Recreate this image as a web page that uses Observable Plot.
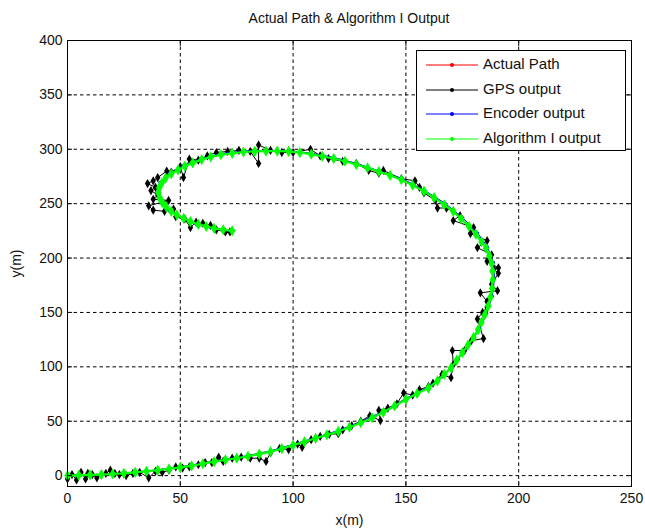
<!DOCTYPE html>
<html><head><meta charset="utf-8">
<script src="https://cdn.jsdelivr.net/npm/d3@7"></script>
<script src="https://cdn.jsdelivr.net/npm/@observablehq/plot@0.6"></script>
<style>
body{margin:0;background:#fff;font-family:"Liberation Sans",Arial,sans-serif;}
#wrap{position:relative;width:645px;height:532px;overflow:hidden;}
#title{position:absolute;left:67px;width:564px;top:10px;text-align:center;font-size:14px;color:#111;}
#chart{position:absolute;left:0;top:30px;}
#legend{position:absolute;left:416px;top:50px;width:208px;height:99px;border:1px solid #000;background:#fff;}
.row{position:absolute;left:0;height:20px;width:208px;}
.row svg{position:absolute;left:8px;top:6px;}
.row span{position:absolute;left:66px;top:1px;font-size:15px;color:#111;white-space:nowrap;}
</style>
</head><body>
<div id="wrap">
  <div id="title">Actual Path &amp; Algorithm I Output</div>
  <div id="chart"></div>
  <div id="legend"></div>
</div>
<script>
// ---- data (metres) ----
const xTicks = [0, 50, 100, 150, 200, 250];
const yTicks = [0, 50, 100, 150, 200, 250, 300, 350, 400];
const seriesNames = ["Actual Path", "GPS output", "Encoder output", "Algorithm I output"];
const seriesColors = ["#ff0000", "#000000", "#0000ff", "#00ff00"];

const actualPath = [[0,0],[10,0.4],[20,1.3],[30,2.8],[40,5],[50,7.6],[60,11],[70,14.6],[80,17.8],[90,22.2],[100,28.2],[110,34.3],[120,40.8],[130,48.7],[140,58.3],[150,70.2],[160,80.8],[167,93.3],[172.5,106.2],[177.5,120.3],[182,134.2],[185,148.3],[187.5,164.2],[188.5,180.2],[188,195.2],[185.5,209],[181,222],[174.5,236],[167,249.2],[158,261.2],[148,272.3],[138,279.2],[128,286.3],[118,291.7],[108,295.7],[98,298.1],[88,298.5],[78,297.6],[68,295.2],[59.5,290.7],[52,284.7],[46,277.7],[41.8,269.2],[40.3,260.3],[42,251.2],[46,243.2],[51.5,236.7],[58,231.2],[65,227.5],[73,225.2]];

const gpsOutput = [[0,-3],[2,1],[4,-4],[6,3],[8,-3],[9,2],[11,1],[13,-2],[15,1],[17,2],[19,5],[21,2],[23,1],[26,0],[29,2],[32,3],[36,-2],[39,4],[42,3],[45,5],[48,8],[51,7],[54,8],[58,10],[61,12],[64,12],[67,17],[69,13],[73,16],[77,17],[81,16],[85,16],[88,13],[90,21],[94,25],[98,24],[102,29],[104,26],[108,33],[112,36],[116,38],[120,38.6],[122,42],[126,46],[130,50],[134,55],[138.7,50.6],[138,60],[142,62],[146,66],[149,76],[153,74],[156,79],[160,82],[162,85],[166,93],[170,90],[171,102],[170.6,115],[176,115],[179,124],[184.4,126],[181.7,144],[184,150],[186,155],[186,160],[183,168],[190.6,170],[188,176],[191,186],[189,190],[191,191],[186,197],[188,203],[181.7,209.6],[186,216],[178.6,222.5],[180,228],[171,234.5],[174,239],[168,246],[164,246],[163,253],[158,260],[156,265],[154,271],[148,273],[140,280.5],[138,278],[133.5,280.5],[128,287],[122,289],[115.7,291.5],[112,294],[107.7,300],[100,297],[95,297],[90,299],[84.7,304],[84.7,287],[81,298],[76,299],[71,298],[66,297],[62,294],[58,290],[54,291],[51.4,274],[50,284],[46,279],[44,280],[40,274],[38,271],[35.5,268.5],[39,265],[37,262],[40,258],[38,254],[44.8,253],[36,248],[38,244],[43,243],[47,245],[48,238],[52,236],[54.5,228],[57,233],[60,232],[63.4,230],[66,226],[70,224],[72,224]];

const encoderOutput = [[0,0.3],[10,0.8],[20,1.6],[30,3.3],[40,5.3],[50,8],[60,11.6],[70,15.2],[80,18.4],[90,22.8],[100,28.8],[110,35],[120,41.5],[130,49.6],[140,59.2],[150,71],[160,81.5],[167.5,94],[173.2,107],[178.3,121],[182.8,135],[185.8,149],[188.3,165],[189.3,181],[188.8,196],[186.2,210],[181.8,223],[175.2,237],[167.6,250],[158.5,262],[148.4,273],[138.3,280],[128.3,287],[118.2,292.4],[108.1,296.4],[98,298.8],[88,299.1],[77.8,298.3],[67.6,295.9],[59,291.3],[51.3,285.3],[45.3,278.2],[41,269.5],[39.6,260.2],[41.3,250.8],[45.4,242.6],[51,236],[57.6,230.5],[64.8,226.8],[73,224.5]];

const algorithmOutput = [[0,0],[5,0.3],[10,0.6],[15,1],[20,1.5],[25,2.1],[30,3],[35,4],[40,5],[45,6.2],[50,7.5],[55,9],[60,10.9],[65,12.8],[70,14.5],[75,16],[80,17.8],[85,19.8],[90,22],[95,24.8],[100,28],[105,31],[110,34.3],[115,37.5],[120,40.6],[125,44.5],[130,48.6],[135,53],[140,58.2],[145,64],[150,70],[155,75.5],[160,80.5],[164,87],[167,93],[170,99],[172.5,106],[175,113],[177.5,120],[180,127],[182,134],[183.5,141],[185,148],[186.5,156],[187.5,164],[188.2,172],[188.5,180],[188.4,188],[188,195],[187,202],[185.5,209],[183.5,215],[181,222],[178,229],[174.5,236],[171,243],[167,249],[162.5,255.5],[158,261.5],[153,267],[148,272],[143,276],[138,279.5],[133,283],[128,286],[123,289],[118,291.5],[113,293.5],[108,295.5],[103,297],[98,298],[93,298.3],[88,298.3],[83,298],[78,297.5],[73,296.3],[68,295],[63.5,293],[59.5,290.5],[55.5,287.5],[52,284.5],[49,281],[46,277.5],[43.5,273.5],[41.8,269],[40.6,264.5],[40.3,260],[40.8,255.5],[42,251],[43.8,247],[46,243],[48.5,239.5],[51.5,236.5],[54.5,233.5],[58,231],[61.5,229],[65,227.3],[69,226],[73,225]];

// ---- chart ----
const allSeries = [actualPath, gpsOutput, encoderOutput, algorithmOutput];
const markRadius = [1.6, 2.8, 1.6, 3.4];
const lineWidth = [1, 1, 1, 2.2];
const marks = [];
allSeries.forEach((s, i) => {
  marks.push(Plot.line(s, {x: d => d[0], y: d => d[1], stroke: seriesColors[i], strokeWidth: lineWidth[i]}));
  marks.push(Plot.dot(s, {x: d => d[0], y: d => d[1], fill: seriesColors[i], r: markRadius[i], symbol: i === 1 || i === 3 ? "diamond" : "circle"}));
});

const chart = Plot.plot({
  width: 645,
  height: 502,
  marginTop: 10,
  marginBottom: 46,
  marginLeft: 67,
  marginRight: 14,
  style: {fontFamily: "'Liberation Sans', Arial, sans-serif", fontSize: "14px", color: "#111", background: "#fff"},
  x: {domain: [0, 250]},
  y: {domain: [-10, 400]},
  marks: [
    Plot.gridX(xTicks, {stroke: "#000", strokeOpacity: 1, strokeDasharray: "3.5,3", strokeWidth: 1}),
    Plot.gridY(yTicks, {stroke: "#000", strokeOpacity: 1, strokeDasharray: "3.5,3", strokeWidth: 1}),
    ...marks,
    Plot.axisX(xTicks, {anchor: "bottom", tickSize: -5, tickPadding: 12, label: "x(m)", labelArrow: "none", labelAnchor: "center", labelOffset: 38, fontSize: 14}),
    Plot.axisX(xTicks, {anchor: "top", tickSize: -5, tickFormat: () => "", label: null}),
    Plot.axisY(yTicks, {anchor: "left", tickSize: -5, tickPadding: 10, label: "y(m)", labelArrow: "none", labelAnchor: "center", labelOffset: 56, fontSize: 14}),
    Plot.axisY(yTicks, {anchor: "right", tickSize: -5, tickFormat: () => "", label: null}),
    Plot.frame({stroke: "#000", strokeWidth: 1})
  ]
});
document.getElementById("chart").appendChild(chart);

// ---- legend ----
const legend = document.getElementById("legend");
seriesNames.forEach((name, i) => {
  const row = document.createElement("div");
  row.className = "row";
  row.style.top = (3 + i * 24.5) + "px";
  row.innerHTML = `<svg width="54" height="10"><line x1="1" x2="53" y1="5" y2="5" stroke="${seriesColors[i]}" stroke-width="1"/><circle cx="27" cy="5" r="2" fill="${seriesColors[i]}"/></svg><span>${name}</span>`;
  legend.appendChild(row);
});
</script>
</body></html>
